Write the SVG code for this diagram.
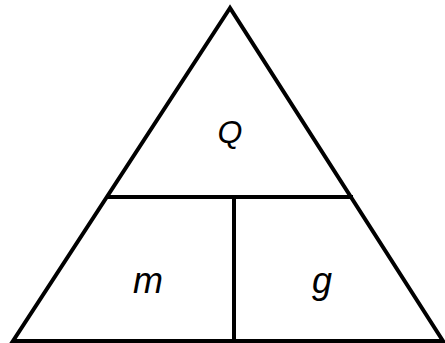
<svg xmlns="http://www.w3.org/2000/svg" width="445" height="343" viewBox="0 0 445 343">
<style>
.l{stroke:#000;stroke-width:4;fill:none;stroke-linejoin:miter}
.t{font-family:"Liberation Sans",Arial,sans-serif;font-style:italic;fill:#000;text-anchor:middle}
</style>
<rect width="445" height="343" fill="#fff"/>
<g id="connectors">
<polygon class="l" points="230,8 13,341 443,341"/>
<line class="l" x1="107" y1="197" x2="353" y2="197"/>
<line class="l" x1="234" y1="197" x2="234" y2="341"/>
</g>
<g id="Q"><text class="t" x="230" y="143" font-size="32">Q</text></g>
<g id="m"><text class="t" x="148" y="293" font-size="36">m</text></g>
<g id="g"><text class="t" x="322" y="293" font-size="36">g</text></g>
</svg>
